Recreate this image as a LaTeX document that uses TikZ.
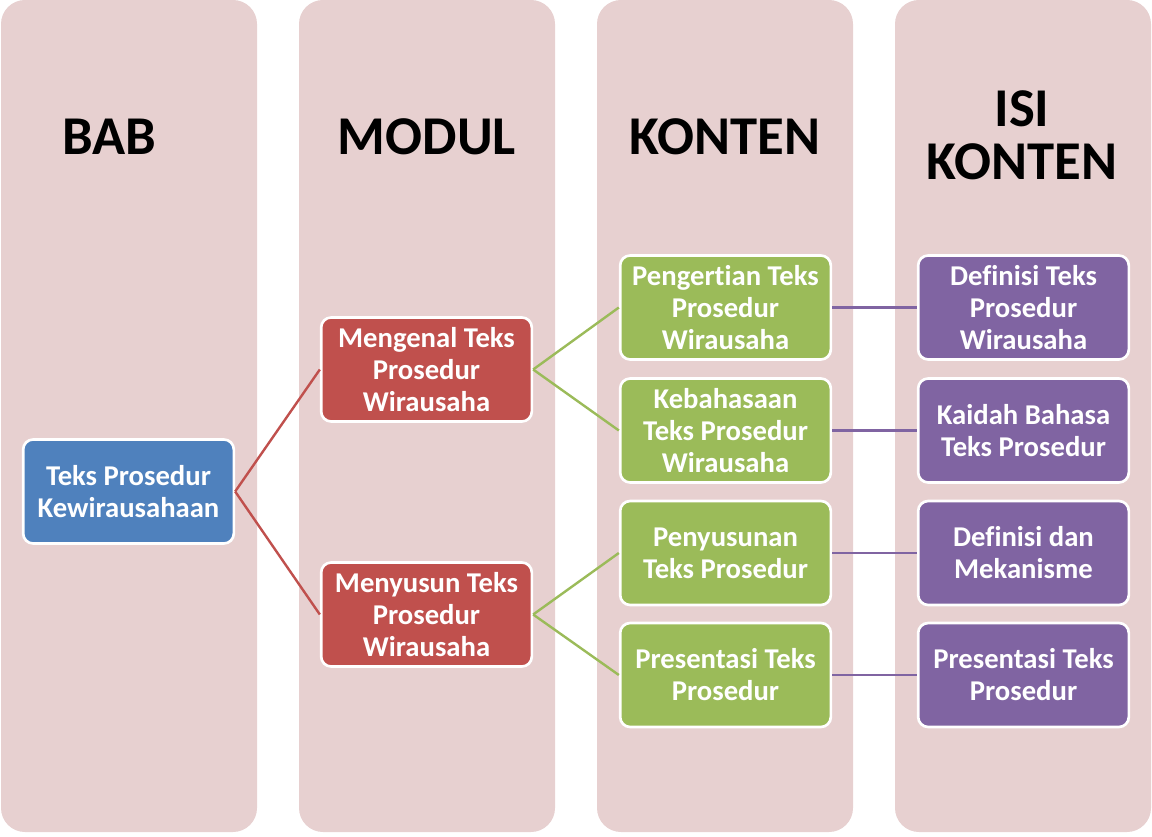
\documentclass[tikz,border=0pt]{standalone}
\usepackage{fontspec}
\setmainfont{Carlito}[Ligatures=NoCommon]
\usepackage{tikz}
\usetikzlibrary{math}

\definecolor{colbg}{RGB}{231,208,208}
\definecolor{babblue}{RGB}{79,129,189}
\definecolor{modred}{RGB}{192,80,77}
\definecolor{kongreen}{RGB}{155,187,89}
\definecolor{isipurple}{RGB}{128,100,162}

\tikzset{
  head/.style={font=\bfseries\fontsize{41}{40}\selectfont, align=center, text=black},
  box/.style={draw=white, line width=2pt, rounded corners=7.5pt, text=white,
    font=\bfseries\fontsize{21.5}{24}\selectfont, align=center,
    minimum width=158pt, minimum height=78pt, inner sep=1pt},
  link/.style={line width=1.8pt}
}

\begin{document}
\begin{tikzpicture}[x=0.75pt, y=-0.75pt]

\useasboundingbox (0,0) rectangle (1152,837);

% Kolom
\tikzmath{ \w = 256; \d = 298; }
\foreach \c in {0,...,3}
  \fill[colbg, rounded corners=18pt] (1 + \d * \c, 0) rectangle (1 + \w + \d * \c, 832);

% Judul kolom
\node[head] (hbab) at (109, 137) {BAB};
\node[head] (hmod) at (427, 137) {MODUL};
\node[head] (hkon) at (725, 137) {KONTEN};
\node[head] (hisi) at (1022, 135) {ISI\\KONTEN};

% Bab
\node[box, fill=babblue] (bab) at (128.5, 491.5) {Teks Prosedur\\Kewirausahaan};

% Modul
\node[box, fill=modred] (mod1) at (426.5, 369.5) {Mengenal Teks\\Prosedur\\Wirausaha};
\node[box, fill=modred] (mod2) at (426.5, 614.5) {Menyusun Teks\\Prosedur\\Wirausaha};

% Konten
\node[box, fill=kongreen] (kon1) at (725.5, 307.5) {Pengertian Teks\\Prosedur\\Wirausaha};
\node[box, fill=kongreen] (kon2) at (725.5, 430.5) {Kebahasaan\\Teks Prosedur\\Wirausaha};
\node[box, fill=kongreen] (kon3) at (725.5, 553) {Penyusunan\\Teks Prosedur};
\node[box, fill=kongreen] (kon4) at (725.5, 675) {Presentasi Teks\\Prosedur};

% Isi konten
\node[box, fill=isipurple] (isi1) at (1023.5, 307.5) {Definisi Teks\\Prosedur\\Wirausaha};
\node[box, fill=isipurple] (isi2) at (1023.5, 430.5) {Kaidah Bahasa\\Teks Prosedur};
\node[box, fill=isipurple] (isi3) at (1023.5, 553) {Definisi dan\\Mekanisme};
\node[box, fill=isipurple] (isi4) at (1023.5, 675) {Presentasi Teks\\Prosedur};

% Garis penghubung
\draw[link, modred] (bab.east) -- (mod1.west);
\draw[link, modred] (bab.east) -- (mod2.west);

\draw[link, kongreen] (mod1.east) -- (kon1.west);
\draw[link, kongreen] (mod1.east) -- (kon2.west);
\draw[link, kongreen] (mod2.east) -- (kon3.west);
\draw[link, kongreen] (mod2.east) -- (kon4.west);

\draw[link, isipurple] (kon1.east) -- (isi1.west);
\draw[link, isipurple] (kon2.east) -- (isi2.west);
\draw[link, isipurple] (kon3.east) -- (isi3.west);
\draw[link, isipurple] (kon4.east) -- (isi4.west);

\end{tikzpicture}
\end{document}
